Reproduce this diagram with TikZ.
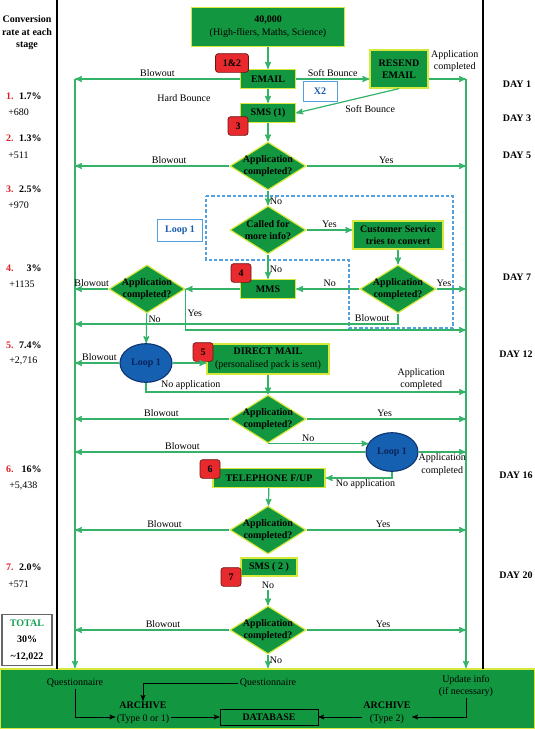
\documentclass[tikz,border=0pt]{standalone}
\usepackage{fontspec}
\setmainfont{Liberation Serif}
\usepackage{tikz}
\usetikzlibrary{arrows,shapes.geometric}
\usepackage{xcolor}
\definecolor{boxgreen}{RGB}{18,150,64}
\definecolor{boxedge}{RGB}{214,232,60}
\definecolor{linegreen}{RGB}{52,178,104}
\definecolor{badgered}{RGB}{232,42,46}
\definecolor{badgeedge}{RGB}{110,20,20}
\definecolor{loopfill}{RGB}{22,96,178}
\definecolor{loopedge}{RGB}{12,50,110}
\definecolor{looptext}{RGB}{10,36,90}
\definecolor{dashblue}{RGB}{84,160,222}
\definecolor{blutext}{RGB}{24,92,172}
\definecolor{numred}{RGB}{222,32,40}
\definecolor{totgreen}{RGB}{20,160,80}
\AtBeginDocument{\fontsize{7.5}{9.4}\selectfont}

\begin{document}
\begin{tikzpicture}[x=0.75pt,y=-0.75pt,>=stealth']
\tikzset{
    gbox/.style={%
        draw=boxedge, line width=0.9pt,
        fill=boxgreen,
        rectangle,
        font=\bfseries,
        align=center,
        inner sep=1pt
        },
    dec/.style={%
        draw=boxedge, line width=0.9pt,
        fill=boxgreen,
        diamond, aspect=1.6,
        inner sep=-4pt,
        minimum width=57pt,
        minimum height=36pt,
        font=\bfseries,
        align=center
        },
    badge/.style={%
        draw=badgeedge, line width=0.5pt,
        fill=badgered,
        rectangle,
        rounded corners=2pt,
        minimum width=15pt,
        minimum height=14pt,
        inner sep=1pt,
        font=\bfseries
        },
    loopell/.style={%
        draw=loopedge, line width=0.8pt,
        fill=loopfill,
        ellipse,
        minimum width=39pt,
        minimum height=29pt,
        text=looptext,
        font=\bfseries
        },
    blubox/.style={%
        draw=dashblue, line width=0.7pt,
        rectangle,
        text=blutext,
        font=\bfseries
        },
    flow/.style={draw=linegreen, line width=0.9pt, ->},
    blk/.style={draw=black, line width=0.6pt, ->},
    lbl/.style={inner sep=1pt},
    num/.style={inner sep=0pt, text=numred, font=\bfseries},
    pct/.style={inner sep=0pt, anchor=east, font=\bfseries},
    add/.style={inner sep=0pt, anchor=west},
    day/.style={inner sep=0pt, font=\bfseries},
}
\useasboundingbox (0,0) rectangle (535,729);
%%%BOTTOM PANEL
\node[draw=boxedge, line width=1.5pt, fill=boxgreen, minimum width=401.25pt, minimum height=45pt] (panel) at (267.5,699) {};
%%%COLUMN RULES
\draw[line width=1pt] (57,0) -- (57,669);
\draw[line width=1pt] (483,0) -- (483,669);
%%%CONVERSION RATES
\node[font=\bfseries, align=center] (head) at (27,33) {Conversion\\rate at each\\stage};
\node[num] (n1) at (10,96) {1.};
\node[pct] (p1) at (42,96) {1.7\%};
\node[add] (c1) at (8,112) {+680};
\node[num] (n2) at (10,138) {2.};
\node[pct] (p2) at (42,138) {1.3\%};
\node[add] (c2) at (8,155) {+511};
\node[num] (n3) at (10,189) {3.};
\node[pct] (p3) at (42,189) {2.5\%};
\node[add] (c3) at (8,205) {+970};
\node[num] (n4) at (10,268) {4.};
\node[pct] (p4) at (42,268) {3\%};
\node[add] (c4) at (9,284) {+1135};
\node[num] (n5) at (10,345) {5.};
\node[pct] (p5) at (42,345) {7.4\%};
\node[add] (c5) at (9,361) {+2,716};
\node[num] (n6) at (10,469) {6.};
\node[pct] (p6) at (42,469) {16\%};
\node[add] (c6) at (9,486) {+5,438};
\node[num] (n7) at (10,567) {7.};
\node[pct] (p7) at (42,567) {2.0\%};
\node[add] (c7) at (8,584) {+571};
\node[draw=black!60, line width=0.8pt, minimum width=37.5pt, minimum height=38pt, inner sep=1pt, align=center, font=\bfseries] (tot) at (27,640) {\textcolor{totgreen}{TOTAL}\\[3pt]30\%\\[3pt]\textasciitilde12,022};
%%%DAYS
\node[day] (day1) at (517,84) {DAY 1};
\node[day] (day3) at (517,118) {DAY 3};
\node[day] (day5) at (517,155) {DAY 5};
\node[day] (day7) at (517,277) {DAY 7};
\node[day] (day12) at (516,354) {DAY 12};
\node[day] (day16) at (516,475) {DAY 16};
\node[day] (day20) at (516,575) {DAY 20};
%%%LOOP 1 AREA
\draw[draw=dashblue, line width=0.8pt, dash pattern=on 2.5pt off 1.5pt] (206,196) -- (453,196) -- (453,328) -- (349,328) -- (349,260) -- (206,260) -- cycle;
\node[blubox, minimum width=33.75pt, minimum height=16.5pt] (loopbox) at (180,230) {Loop 1};
%%%STEPS
\node[gbox, minimum width=114.75pt, minimum height=29.25pt] (top) at (268,27) {40,000\\\mdseries(High-fliers, Maths, Science)};
\node[gbox, minimum width=41.25pt, minimum height=14.25pt] (email) at (268,79) {EMAIL};
\node[gbox, minimum width=43.5pt, minimum height=28.5pt] (resend) at (399,69) {RESEND\\EMAIL};
\node[blubox, minimum width=25.5pt, minimum height=15pt] (x2) at (320,91) {X2};
\node[gbox, minimum width=41.25pt, minimum height=14.25pt] (sms1) at (268,113) {SMS (1)};
\node[dec] (d1) at (268,166) {Application\\completed?};
\node[dec] (d2) at (268,230) {Called for\\more info?};
\node[gbox, minimum width=67.5pt, minimum height=21pt] (cs) at (398,235) {Customer Service\\tries to convert};
\node[dec] (d3) at (398,289) {Application\\completed?};
\node[gbox, minimum width=41.25pt, minimum height=14.25pt] (mms) at (268,289) {MMS};
\node[dec] (dL) at (147,289) {Application\\completed?};
\node[loopell] (loopA) at (146,363) {Loop 1};
\node[gbox, minimum width=91.5pt, minimum height=22.5pt] (dm) at (268,359) {DIRECT MAIL\\\mdseries(personalised pack is sent)};
\node[dec] (d5) at (268,419) {Application\\completed?};
\node[loopell] (loopB) at (392,452) {Loop 1};
\node[gbox, minimum width=84pt, minimum height=14.25pt] (tel) at (269,478) {TELEPHONE F/UP};
\node[dec] (d6) at (268,530) {Application\\completed?};
\node[gbox, minimum width=42pt, minimum height=13.5pt] (sms2) at (269,567) {SMS ( 2 )};
\node[lbl] (no7) at (268,585) {No};
\node[dec] (d7) at (268,630) {Application\\completed?};
%%%BADGES
\node[badge, minimum width=24.75pt] (b12) at (232,63) {1\&2};
\node[badge] (b3) at (238,126) {3};
\node[badge] (b4) at (241,273) {4};
\node[badge] (b5) at (203,352) {5};
\node[badge] (b6) at (210,469) {6};
\node[badge] (b7) at (231,577) {7};
\node[lbl] (hard) at (184,98) {Hard Bounce};
%%%MAIN LINES
\coordinate (Ltop) at (75,79);
\coordinate (Rtop) at (466,79);
\coordinate (bl7) at (75,324);
\coordinate (yes7) at (466,330);
\coordinate (na5) at (466,392);
\draw[flow] (Ltop) -- (Ltop |- panel.north);
\draw[flow] (Rtop) -- (Rtop |- panel.north);
%%%CONNECTORS
\draw[flow] (top) -- (email);
\draw[flow] (email) -- (sms1);
\draw[flow] (sms1) -- (d1);
\draw[flow] (email.west) -- (Ltop) node[lbl, above, pos=0.5] {Blowout};
\draw[flow] (email.east) -- (email.east -| resend.west) node[lbl, above, midway] {Soft Bounce};
\draw[flow] (resend.east |- Rtop) -- (Rtop) node[lbl, above=4pt, pos=0.7, align=center] {Application\\completed};
\draw[flow] (resend.south) -- (sms1.east) node[lbl, pos=0.28, below=6pt] {Soft Bounce};
\draw[flow] (d1.west) -- (d1.west -| Ltop) node[lbl, above, pos=0.39] {Blowout};
\draw[flow] (d1.east) -- (d1.east -| Rtop) node[lbl, above, pos=0.5] {Yes};
\draw[flow] (d1) -- (d2) node[lbl, right, pos=0.75] {No};
\draw[flow] (d2.east) -- (d2.east -| cs.west) node[lbl, above, midway] {Yes};
\draw[flow] (d2) -- (mms) node[lbl, right, pos=0.6] {No};
\draw[flow] (cs) -- (d3);
\draw[flow] (d3.east) -- (d3.east -| Rtop) node[lbl, above, pos=0.25] {Yes};
\draw[flow] (d3.west) -- (mms.east) node[lbl, above, pos=0.47] {No};
\draw[flow] (d3.south) |- (bl7) node[lbl, above, pos=0.54] {Blowout};
\draw[flow] (mms.west) -- (dL.east);
\draw[flow] (dL.west) -- (dL.west -| Ltop) node[lbl, above, pos=0.5] {Blowout};
\draw[flow] (dL.east) |- (yes7) node[lbl, right, pos=0.3] {Yes};
\draw[flow] (dL) -- (loopA) node[lbl, right, pos=0.2] {No};
\draw[flow] (loopA.west) -- (loopA.west -| Ltop) node[lbl, above, pos=0.45] {Blowout};
\draw[flow] (loopA.east) -- (loopA.east -| dm.west);
\draw[flow] (loopA.south) |- (na5) node[lbl, above, pos=0.57] {No application} node[lbl, above, pos=0.93, align=center] {Application\\completed};
\draw[flow] (dm) -- (d5);
\draw[flow] (d5.west) -- (d5.west -| Ltop) node[lbl, above, pos=0.44] {Blowout};
\draw[flow] (d5.east) -- (d5.east -| Rtop) node[lbl, above, pos=0.49] {Yes};
\draw[flow] (d5.south) -- (d5.south -| loopB.159) node[lbl, above, pos=0.4] {No};
\draw[flow] (loopB.west) -- (loopB.west -| Ltop) node[lbl, above, pos=0.63] {Blowout};
\draw[flow] (loopB.east) -- (loopB.east -| Rtop) node[lbl, below, align=center, pos=0.5] {Application\\completed};
\draw[flow] (loopB.south) |- (tel.east) node[lbl, below, pos=0.7] {No application};
\draw[flow] (tel) -- (d6);
\draw[flow] (d6.west) -- (d6.west -| Ltop) node[lbl, above, pos=0.42] {Blowout};
\draw[flow] (d6.east) -- (d6.east -| Rtop) node[lbl, above, pos=0.48] {Yes};
\draw[flow] (no7) -- (d7);
\draw[flow] (d7.west) -- (d7.west -| Ltop) node[lbl, above, pos=0.43] {Blowout};
\draw[flow] (d7.east) -- (d7.east -| Rtop) node[lbl, above, pos=0.48] {Yes};
\draw[flow] (d7) -- (d7 |- panel.north) node[lbl, right, pos=0.4] {No};
%%%ARCHIVE
\node[lbl] (qL) at (75,683) {Questionnaire};
\node[lbl] (qM) at (268,683) {Questionnaire};
\node[lbl, align=center] (upd) at (466,686) {Update info\\(if necessary)};
\node[lbl, align=center] (arcL) at (143,713) {\textbf{ARCHIVE}\\(Type 0 or 1)};
\node[lbl, align=center] (arcR) at (387,713) {\textbf{ARCHIVE}\\(Type 2)};
\node[draw=black, line width=0.6pt, minimum width=73.5pt, minimum height=12pt, inner sep=1pt, font=\bfseries] (db) at (269,717) {DATABASE};
\draw[blk] (qL.south) |- (arcL.west |- db);
\draw[blk] (qM.west) -| (arcL.north);
\draw[blk] (arcL.east |- db) -- (db.west);
\draw[blk] (upd.south) |- (arcR.east |- db);
\draw[blk] (arcR.west |- db) -- (db.east);
\end{tikzpicture}
\end{document}
